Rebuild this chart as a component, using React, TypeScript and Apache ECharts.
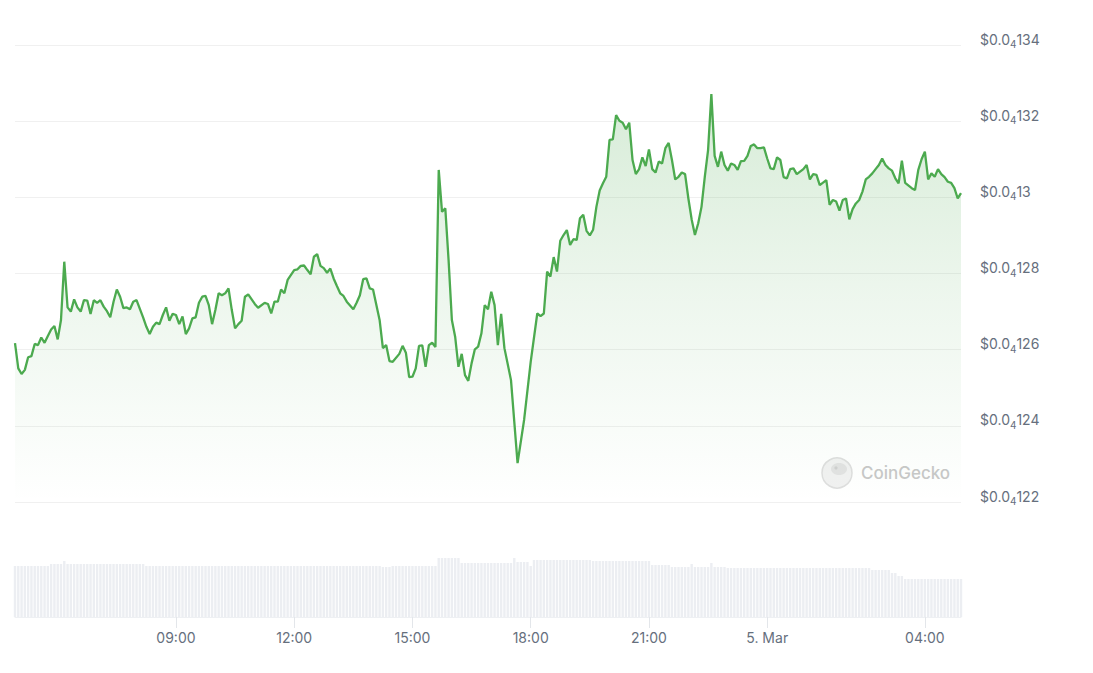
import React, { useEffect, useRef } from "react";
import * as echarts from "echarts";

// Time base: samples every 5 minutes starting 4 Mar, 04:55 (local time)
const START = new Date(2024, 2, 4, 4, 55).getTime();
const STEP_MS = 5 * 60 * 1000;
const LAST_STEP = 288;

// Price values in units of $0.0000001 (so 130 = $0.0000130 = "$0.0₄13")
const priceSteps = [
  0, 1, 2, 3, 4, 5, 6, 7, 8, 9, 10, 11, 12, 13, 14, 15, 16, 17, 18, 19,
  20, 21, 22, 23, 24, 25, 26, 27, 28, 29, 30, 31, 32, 33, 34, 35, 36, 37, 39, 40,
  41, 42, 43, 44, 45, 46, 47, 48, 49, 50, 51, 52, 53, 54, 55, 56, 57, 58, 59, 60,
  61, 62, 63, 64, 65, 66, 67, 68, 69, 70, 71, 73, 74, 76, 77, 78, 79, 80, 81, 82,
  83, 85, 86, 87, 88, 89, 90, 91, 92, 93, 94, 95, 96, 97, 98, 99, 100, 101, 103, 104,
  105, 106, 107, 108, 109, 111, 112, 113, 114, 115, 117, 118, 119, 120, 121, 122, 123, 124, 125, 126,
  127, 128, 129, 130, 131, 132, 133, 134, 135, 136, 137, 138, 139, 140, 141, 142, 143, 144, 145, 146,
  147, 148, 149, 151, 153, 155, 157, 159, 160, 161, 162, 163, 164, 165, 166, 167, 168, 169, 170, 171,
  172, 173, 174, 175, 176, 177, 178, 179, 180, 181, 182, 183, 184, 185, 186, 187, 188, 189, 190, 191,
  192, 193, 194, 195, 196, 197, 198, 199, 200, 201, 202, 203, 204, 205, 206, 207, 208, 209, 210, 211,
  212, 213, 214, 215, 216, 217, 218, 219, 220, 221, 222, 223, 224, 225, 226, 227, 228, 229, 230, 231,
  232, 233, 234, 235, 236, 237, 238, 240, 241, 242, 243, 244, 245, 247, 248, 249, 250, 251, 252, 253,
  254, 255, 256, 257, 258, 259, 260, 261, 262, 263, 264, 265, 266, 267, 268, 269, 270, 271, 273, 274,
  275, 276, 277, 278, 279, 280, 281, 282, 283, 284, 285, 286, 287, 288,
];

const priceValues = [
  126.17, 125.51, 125.36, 125.47, 125.8, 125.83, 126.15, 126.12, 126.32, 126.18, 126.36, 126.53, 126.62, 126.27, 126.78, 128.31, 127.11, 127.0, 127.32, 127.11,
  127.0, 127.3, 127.29, 126.94, 127.3, 127.23, 127.3, 127.13, 127.01, 126.85, 127.26, 127.58, 127.39, 127.09, 127.11, 127.06, 127.26, 127.3, 126.85, 126.6,
  126.41, 126.6, 126.71, 126.67, 126.91, 127.11, 126.76, 126.94, 126.91, 126.67, 126.87, 126.41, 126.56, 126.82, 126.85, 127.23, 127.39, 127.41, 127.17, 126.67,
  127.04, 127.48, 127.43, 127.48, 127.61, 127.04, 126.56, 126.67, 126.76, 127.39, 127.45, 127.2, 127.1, 127.23, 127.2, 126.95, 127.26, 127.26, 127.58, 127.48,
  127.83, 128.09, 128.11, 128.2, 128.21, 128.09, 127.98, 128.44, 128.51, 128.2, 128.14, 128.02, 128.13, 127.87, 127.67, 127.48, 127.41, 127.26, 127.06, 127.23,
  127.43, 127.85, 127.87, 127.61, 127.58, 126.78, 126.04, 126.12, 125.7, 125.68, 125.89, 126.1, 125.92, 125.28, 125.29, 125.51, 126.1, 126.11, 125.55, 126.12,
  126.18, 126.07, 130.72, 129.62, 129.71, 128.35, 126.78, 126.34, 125.55, 125.89, 125.33, 125.18, 125.64, 126.01, 126.08, 126.43, 127.17, 127.06, 127.52, 127.17,
  126.12, 126.94, 126.04, 125.2, 123.02, 124.16, 125.68, 126.95, 126.88, 126.95, 128.05, 127.92, 128.43, 128.05, 128.86, 129.01, 129.14, 128.75, 128.9, 128.88,
  129.45, 129.54, 129.12, 129.0, 129.15, 129.75, 130.18, 130.37, 130.54, 131.51, 131.52, 132.16, 132.01, 131.96, 131.79, 131.96, 130.98, 130.61, 130.74, 131.05,
  130.82, 131.26, 130.74, 130.65, 130.94, 130.89, 131.29, 131.43, 130.98, 130.47, 130.54, 130.65, 130.61, 129.97, 129.42, 129.01, 129.32, 129.75, 130.54, 131.24,
  132.71, 131.09, 130.8, 131.2, 130.85, 130.7, 130.89, 130.85, 130.72, 130.95, 130.96, 131.09, 131.35, 131.39, 131.29, 131.29, 131.31, 131.02, 130.76, 130.74,
  131.05, 130.98, 130.53, 130.5, 130.74, 130.76, 130.61, 130.74, 130.85, 130.47, 130.61, 130.59, 130.32, 130.45, 129.8, 129.93, 129.89, 129.65, 129.93, 129.97,
  129.42, 129.69, 129.84, 129.93, 130.15, 130.47, 130.54, 130.63, 130.74, 130.85, 131.02, 130.85, 130.76, 130.7, 130.5, 130.37, 130.96, 130.38, 130.24, 130.19,
  130.72, 131.0, 131.2, 130.47, 130.63, 130.54, 130.74, 130.61, 130.53, 130.41, 130.38, 130.24, 129.97, 130.11,
];

// Relative trading volume, one bar per 5-minute step (0..288)
const volumeValues = [
  51, 51, 51, 51, 51, 51, 51, 51, 51, 51, 51,
  53, 53, 53, 53, 56, 53, 53, 53, 53, 53,
  53, 53, 53, 53, 53, 53, 53, 53, 53, 53,
  53, 53, 53, 53, 53, 53, 53, 53, 53,
  51, 51, 51, 51, 51, 51, 51, 51, 51, 51, 51, 51,
  51, 51, 51, 51, 51, 51, 51, 51, 51, 51, 51, 51,
  51, 51, 51, 51, 51, 51, 51, 51, 51, 51, 51, 51,
  51, 51, 51, 51, 51, 51, 51, 51, 51, 51, 51, 51,
  51, 51, 51, 51, 51, 51, 51, 51, 51, 51, 51, 51,
  51, 51, 51, 51, 51, 51, 51, 51, 51, 51, 51, 51,
  50, 50, 50,
  51, 51, 51, 51, 51, 51, 51, 51, 51, 51, 51, 51, 51, 51,
  59, 59, 59, 59, 59, 59, 59,
  54, 54, 54, 54, 54, 54, 54, 54, 54, 54, 54, 54, 54, 54, 54,
  54, 59, 55,
  55, 55, 55,
  51,
  57, 57, 57, 57, 57, 57, 57, 57, 57, 57, 57, 57, 57, 57, 57, 57, 57, 57,
  56, 56, 56, 56, 56, 56, 56, 56, 56, 56, 56, 56, 56, 56, 56, 56, 56, 56,
  52, 52, 52, 52, 52, 52,
  50, 50, 50, 50, 50, 50, 53, 50, 50, 50, 50, 50, 54, 50, 50, 50, 50,
  49, 49, 49, 49, 49, 49, 49, 49, 49, 49, 49,
  49, 49, 49, 49, 49, 49, 49, 49, 49, 49, 49,
  49, 49, 49, 49, 49, 49, 49, 49, 49, 49, 49,
  49, 49, 49, 49, 49, 49, 49, 49, 49, 49, 49,
  47, 47, 47, 47, 47, 47,
  44, 44,
  41, 41,
  38, 38, 38, 38, 38, 38, 38, 38, 38, 38, 38, 38, 38, 38, 38, 38, 38, 38,
];

// Price axis
const priceMin = 122;
const priceMax = 134;
const priceInterval = 2;

// X-axis tick positions: [day of March, hour]
const xTicks = [
  [4, 9],
  [4, 12],
  [4, 15],
  [4, 18],
  [4, 21],
  [5, 0],
  [5, 4],
];

const MONTHS = ["Jan", "Feb", "Mar", "Apr", "May", "Jun", "Jul", "Aug", "Sep", "Oct", "Nov", "Dec"];

const LABEL_COLOR = "#666f7d";
const LINE_COLOR = "#4caa4f";
const FONT = "Inter, 'Noto Sans', sans-serif";

function pad2(n: number) {
  return n < 10 ? "0" + n : String(n);
}

export default function App() {
  const ref = useRef<HTMLDivElement>(null);

  useEffect(() => {
    if (!ref.current) return;
    const chart = echarts.init(ref.current, null, { renderer: "svg" });

    const tMin = START;
    const tMax = START + LAST_STEP * STEP_MS;
    const tickTimes = xTicks.map(([d, h]) => new Date(2024, 2, d, h, 0).getTime());

    const lineData = priceSteps.map((k, i) => [START + k * STEP_MS, priceValues[i]]);
    const volData = volumeValues.map((v, k) => [START + k * STEP_MS, v]);

    chart.setOption({
      animation: false,
      backgroundColor: "#ffffff",
      grid: [
        { left: 15, right: 132, top: 45, height: 457 },
        { left: 15, right: 132, top: 517, height: 100 },
      ],
      xAxis: [
        {
          type: "value",
          gridIndex: 0,
          min: tMin,
          max: tMax,
          show: false,
          splitLine: { show: false },
        },
        {
          type: "value",
          gridIndex: 1,
          min: tMin,
          max: tMax,
          axisLine: { show: true, lineStyle: { color: "#eef0f3", width: 1 } },
          axisTick: {
            show: true,
            customValues: tickTimes,
            length: 11,
            lineStyle: { color: "#e3e6ea", width: 1 },
          },
          splitLine: { show: false },
          axisLabel: {
            customValues: tickTimes,
            margin: 13,
            color: LABEL_COLOR,
            fontSize: 14,
            fontFamily: FONT,
            formatter: (val: number) => {
              const d = new Date(val);
              if (d.getHours() === 0 && d.getMinutes() === 0) {
                return d.getDate() + ". " + MONTHS[d.getMonth()];
              }
              return pad2(d.getHours()) + ":" + pad2(d.getMinutes());
            },
          },
        },
      ],
      yAxis: [
        {
          type: "value",
          gridIndex: 0,
          position: "right",
          min: priceMin,
          max: priceMax,
          interval: priceInterval,
          axisLine: { show: false },
          axisTick: { show: false },
          splitLine: { show: true, lineStyle: { color: "#f0f0f0", width: 1 } },
          axisLabel: {
            margin: 19,
            padding: [0, 0, 12, 0],
            formatter: (v: number) => {
              const digits = String(Math.round(v)).replace(/0+$/, "");
              return "{m|$0.0}{s|4}{m|" + digits + "}";
            },
            rich: {
              m: {
                fontSize: 14,
                lineHeight: 14,
                verticalAlign: "top",
                color: LABEL_COLOR,
                fontFamily: FONT,
              },
              s: {
                fontSize: 10,
                lineHeight: 10,
                verticalAlign: "top",
                padding: [7, 0, 0, 0],
                color: LABEL_COLOR,
                fontFamily: FONT,
              },
            },
          },
        },
        {
          type: "value",
          gridIndex: 1,
          min: 0,
          max: 100,
          show: false,
          splitLine: { show: false },
        },
      ],
      graphic: [
        {
          type: "circle",
          shape: { cx: 837, cy: 473, r: 15 },
          style: { fill: "#f1f1f1", stroke: "#dedede", lineWidth: 1.5 },
          z: 1,
        },
        {
          type: "ellipse",
          shape: { cx: 839, cy: 469, rx: 8, ry: 6 },
          style: { fill: "#e2e2e2" },
          z: 1,
        },
        {
          type: "circle",
          shape: { cx: 836, cy: 468, r: 1.6 },
          style: { fill: "#cfcfcf" },
          z: 1,
        },
        {
          type: "text",
          x: 861,
          y: 473,
          style: {
            text: "CoinGecko",
            fill: "#c8c8c8",
            fontSize: 17,
            fontWeight: 500,
            fontFamily: FONT,
            verticalAlign: "middle",
          },
          z: 1,
        },
      ],
      series: [
        {
          type: "bar",
          xAxisIndex: 1,
          yAxisIndex: 1,
          data: volData,
          barWidth: 2.4,
          itemStyle: { color: "#eceef2" },
          silent: true,
        },
        {
          type: "line",
          xAxisIndex: 0,
          yAxisIndex: 0,
          data: lineData,
          symbol: "none",
          smooth: false,
          lineStyle: { color: LINE_COLOR, width: 2.3 },
          areaStyle: {
            color: new echarts.graphic.LinearGradient(0, 0, 0, 1, [
              { offset: 0, color: "rgba(76,170,79,0.32)" },
              { offset: 0.5, color: "rgba(76,170,79,0.14)" },
              { offset: 1, color: "rgba(76,170,79,0.0)" },
            ]),
          },
          z: 3,
        },
      ],
    });

    return () => {
      chart.dispose();
    };
  }, []);

  return (
    <div
      ref={ref}
      style={{
        position: "absolute",
        left: 0,
        top: 0,
        width: 1093,
        height: 673,
        background: "#ffffff",
      }}
    />
  );
}
